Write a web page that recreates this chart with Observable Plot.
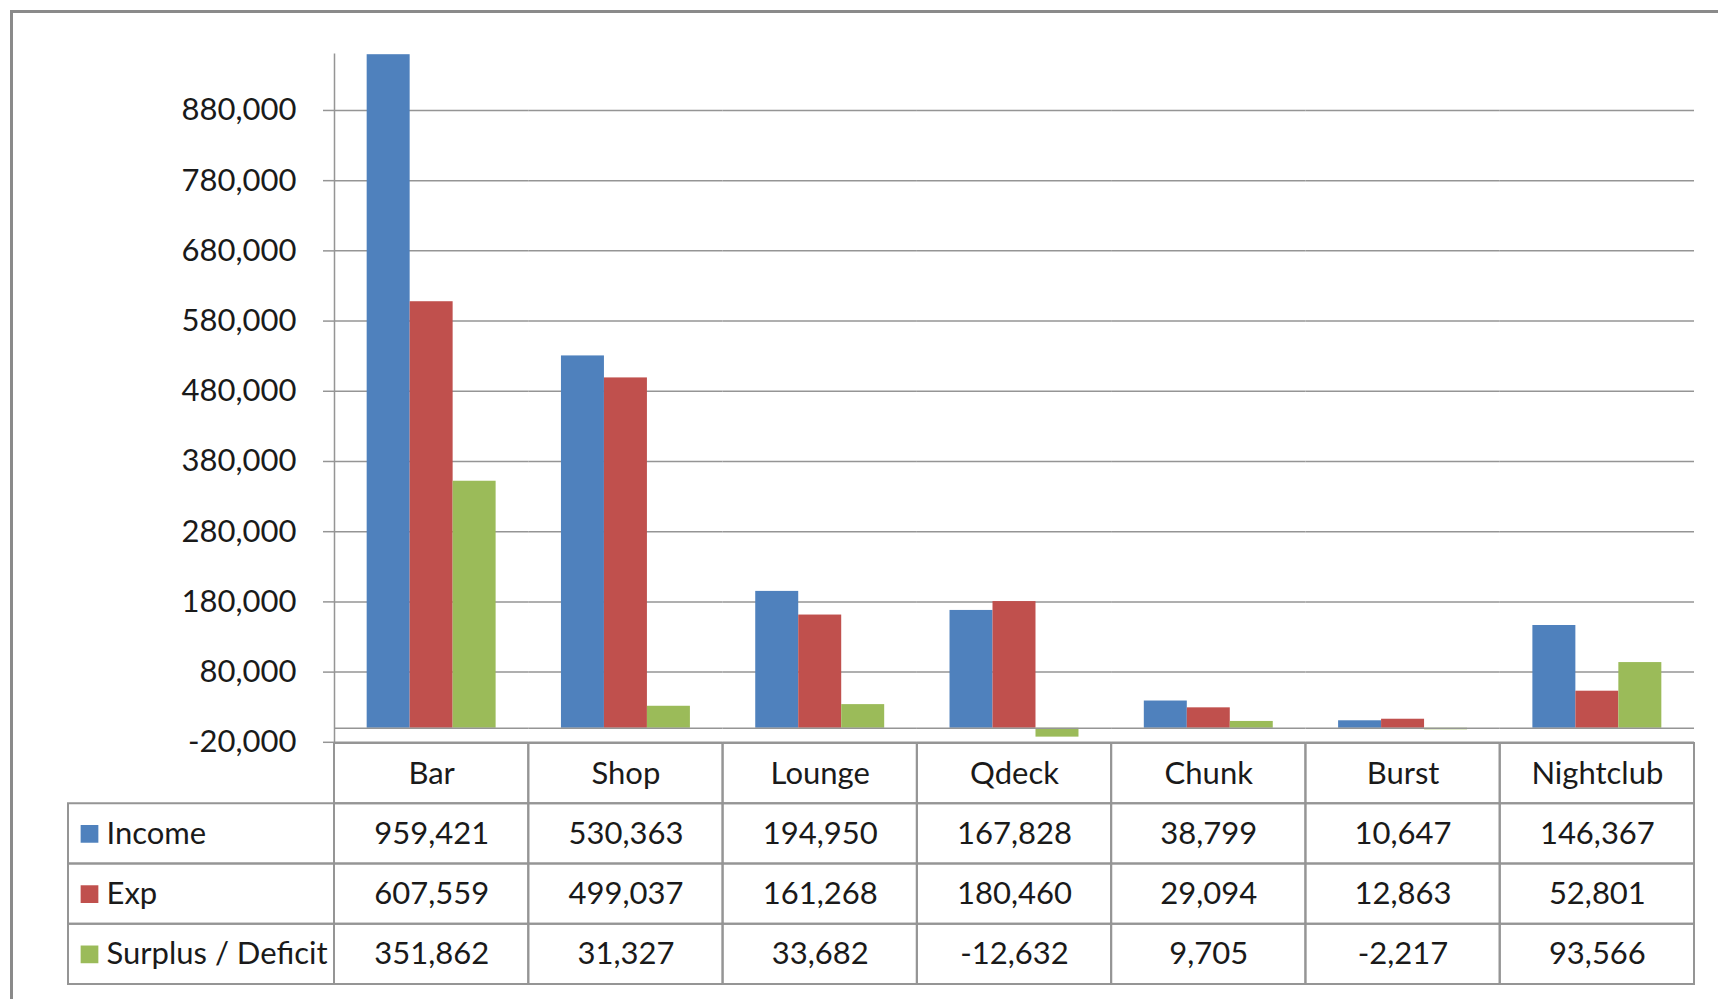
<!DOCTYPE html>
<html><head><meta charset="utf-8">
<script src="https://cdn.jsdelivr.net/npm/d3@7"></script>
<script src="https://cdn.jsdelivr.net/npm/@observablehq/plot@0.6"></script>
<style>
html,body{margin:0;padding:0;background:#fff;width:1718px;height:999px;overflow:hidden}
#frame{position:absolute;left:10px;top:10px;width:2000px;height:2000px;border-left:3px solid #8a8a8a;border-top:3px solid #8a8a8a;box-sizing:border-box}
#chart,#table{position:absolute;left:0;top:0}
svg{overflow:visible}
</style></head><body>
<div id="frame"></div>
<div id="chart"></div><div id="table"></div>
<script>
// ---- data ----
const categories = ["Bar","Shop","Lounge","Qdeck","Chunk","Burst","Nightclub"];
const seriesNames = ["Income","Exp","Surplus / Deficit"];
const income  = [959421,530363,194950,167828,38799,10647,146367];
const exp     = [607559,499037,161268,180460,29094,12863,52801];
const surplus = [351862,31327,33682,-12632,9705,-2217,93566];
const yTicks  = [-20000,80000,180000,280000,380000,480000,580000,680000,780000,880000];
const colors  = ["#4F81BD","#C0504D","#9BBB59"];

// ---- layout / style ----
const W = 1718, H = 999;
const font = "Lato, 'Open Sans', sans-serif";
const fontSize = 31;
const plotLeft = 334, plotRight = 1694, plotTop = 53.8, plotBottom = 741.8;
const tableTop = 743, tableBottom = 984, legendLeftPx = 68;
const lineColor = "#959595";
const textColor = "#1a1a1a";
const fmt = d3.formatLocale({decimal:".", thousands:",", grouping:[3], currency:["$",""], minus:"-"}).format(",");

const seriesValues = [income, exp, surplus];
const rows = [];
categories.forEach((c,i)=>seriesNames.forEach((s,j)=>rows.push({category:c, series:s, value:seriesValues[j][i]})));

const chart = Plot.plot({
  width: W, height: H,
  marginLeft: plotLeft, marginRight: W - plotRight, marginTop: plotTop, marginBottom: H - plotBottom,
  style: {fontFamily: font, fontSize: fontSize + "px", background: "transparent", overflow: "visible"},
  fx: {domain: categories, padding: 0, round: false, axis: null},
  x: {domain: seriesNames, paddingInner: 0, paddingOuter: 0.76, round: false, axis: null},
  y: {domain: [-20000, 960000], axis: null},
  color: {domain: seriesNames, range: colors},
  marks: [
    Plot.ruleY(yTicks, {stroke: lineColor, strokeWidth: 1.5}),
    Plot.barY(rows, {fx: "category", x: "series", y: "value", fill: "series"}),
    Plot.ruleY([0], {stroke: lineColor, strokeWidth: 1.5}),
    Plot.frame({anchor: "left", facetAnchor: "left", stroke: lineColor, strokeWidth: 1.5}),
    Plot.axisY({ticks: yTicks, tickFormat: fmt, label: null, tickSize: 11, tickPadding: 27, stroke: lineColor, strokeWidth: 1.5, fill: textColor, fontSize: fontSize})
  ]
});
document.getElementById("chart").append(chart);

// ---- table ----
const nCat = categories.length;
const step = (plotRight - plotLeft) / nCat;
const legendLeft = (legendLeftPx - plotLeft) / step;
const cells = [];
categories.forEach((c,i)=>cells.push({x1:i, x2:i+1, y1:0, y2:1}));
seriesNames.forEach((s,j)=>{
  cells.push({x1:legendLeft, x2:0, y1:j+1, y2:j+2});
  categories.forEach((c,i)=>cells.push({x1:i, x2:i+1, y1:j+1, y2:j+2}));
});
const headerTexts = categories.map((c,i)=>({x:i+0.5, y:0.5, text:c}));
const valueTexts = [];
seriesNames.forEach((s,j)=>categories.forEach((c,i)=>valueTexts.push({x:i+0.5, y:j+1.5, text:fmt(seriesValues[j][i])})));
const legendItems = seriesNames.map((s,j)=>({x:legendLeft, y:j+1.5, series:s}));

const table = Plot.plot({
  width: W, height: H,
  style: {fontFamily: font, fontSize: fontSize + "px", background: "transparent", overflow: "visible"},
  x: {domain: [0, nCat], range: [plotLeft, plotRight], axis: null},
  y: {domain: [0, seriesNames.length + 1], range: [tableTop, tableBottom], axis: null},
  color: {domain: seriesNames, range: colors},
  marks: [
    Plot.rect(cells, {x1:"x1", x2:"x2", y1:"y1", y2:"y2", fill:"none", stroke: lineColor, strokeWidth: 2}),
    Plot.text(headerTexts, {x:"x", y:"y", text:"text", fill: textColor, fontSize: fontSize}),
    Plot.text(valueTexts, {x:"x", y:"y", text:"text", fill: textColor, fontSize: fontSize}),
    Plot.dot(legendItems, {x:"x", y:"y", dx: 21, symbol: "square", r: 10, fill: "series", stroke: null}),
    Plot.text(legendItems, {x:"x", y:"y", dx: 38, text:"series", textAnchor: "start", fill: textColor, fontSize: fontSize})
  ]
});
document.getElementById("table").append(table);
</script>
</body></html>
